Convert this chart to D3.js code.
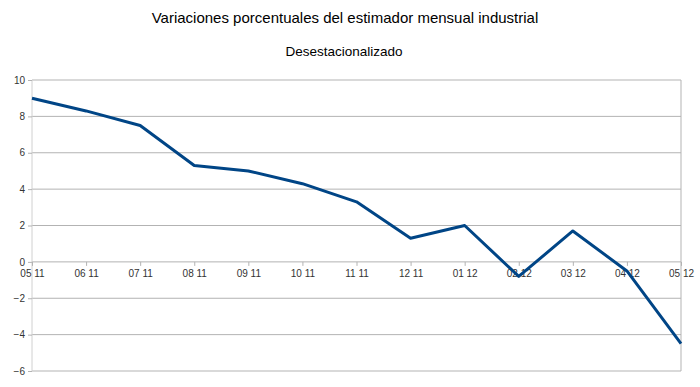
<!DOCTYPE html>
<meta charset="utf-8">
<title>Variaciones porcentuales del estimador mensual industrial</title>
<style>
body { margin: 0; background: #fff; }
svg { display: block; font-family: "Liberation Sans", Arial, sans-serif; }
.grid line { stroke: #b3b3b3; }
.axis text { fill: #333; font-size: 10px; }
</style>
<svg width="700" height="387"></svg>
<script src="https://cdn.jsdelivr.net/npm/d3@7"></script>
<script>

// months (mm yy) and the seasonally adjusted % variation
var months = ["05 11", "06 11", "07 11", "08 11", "09 11", "10 11", "11 11",
              "12 11", "01 12", "02 12", "03 12", "04 12", "05 12"];
var values = [9.0, 8.3, 7.5, 5.3, 5.0, 4.3, 3.3, 1.3, 2.0, -0.8, 1.7, -0.5, -4.5];
var yTicks = [-6, -4, -2, 0, 2, 4, 6, 8, 10];

var svg = d3.select("svg");
// plot box (note: "top" is reserved on window, so use other names)
var plotL = 32, plotR = 681, plotT = 80, plotB = 371;

var x = d3.scalePoint()
    .domain(months)
    .range([plotL, plotR]);

var y = d3.scaleLinear()
    .domain([-6, 10])
    .range([plotB, plotT]);

// titles
svg.append("text")
    .attr("x", 345).attr("y", 23)
    .attr("text-anchor", "middle")
    .attr("font-size", 15)
    .attr("fill", "#000")
    .text("Variaciones porcentuales del estimador mensual industrial");

svg.append("text")
    .attr("x", 344).attr("y", 56)
    .attr("text-anchor", "middle")
    .attr("font-size", 13.5)
    .attr("fill", "#000")
    .text("Desestacionalizado");

// horizontal grid
svg.append("g")
    .attr("class", "grid")
  .selectAll("line")
  .data(yTicks)
  .enter().append("line")
    .attr("x1", plotL).attr("x2", plotR)
    .attr("y1", function(d) { return y(d); })
    .attr("y2", function(d) { return y(d); });

// plot frame (left and right edges)
svg.append("line")
    .attr("x1", plotL).attr("x2", plotL)
    .attr("y1", plotT).attr("y2", plotB)
    .attr("stroke", "#d0d0d0");
svg.append("line")
    .attr("x1", plotR).attr("x2", plotR)
    .attr("y1", plotT).attr("y2", plotB)
    .attr("stroke", "#b3b3b3");

// y axis
var yAxis = svg.append("g")
    .attr("class", "axis")
    .attr("transform", "translate(" + plotL + ",0)")
    .call(d3.axisLeft(y).tickValues(yTicks).tickSize(4).tickPadding(3));
yAxis.select(".domain").remove();
yAxis.selectAll("line").attr("stroke", "#b3b3b3");

// x axis sits on the zero line
var xAxis = svg.append("g")
    .attr("class", "axis")
    .attr("transform", "translate(0," + y(0) + ")")
    .call(d3.axisBottom(x).tickSize(4).tickPadding(4));
xAxis.select(".domain").remove();
xAxis.selectAll("line").attr("stroke", "#b3b3b3");

// the series
var line = d3.line()
    .x(function(d, i) { return x(months[i]); })
    .y(function(d) { return y(d); });

svg.append("path")
    .datum(values)
    .attr("fill", "none")
    .attr("stroke", "#004586")
    .attr("stroke-width", 3)
    .attr("stroke-linejoin", "round")
    .attr("d", line);

</script>
